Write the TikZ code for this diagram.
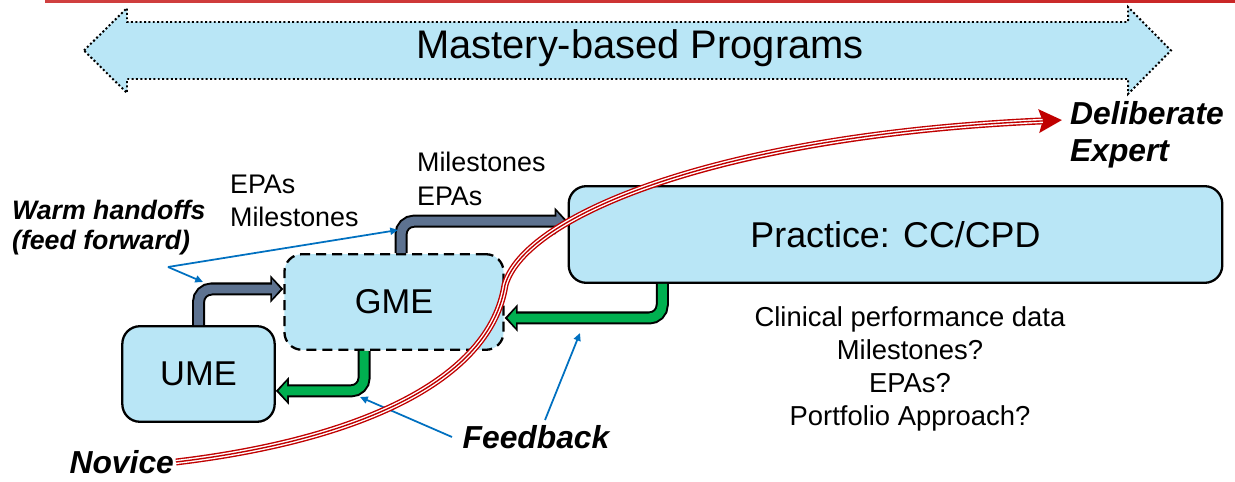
\documentclass[tikz,border=0pt]{standalone}
\usepackage{fontspec}
\setmainfont{Liberation Sans}
\usetikzlibrary{arrows.meta,positioning,calc}

\definecolor{boxblue}{HTML}{B9E6F6}
\definecolor{slate}{HTML}{5D7290}
\definecolor{fbgreen}{HTML}{00B050}
\definecolor{ptrblue}{HTML}{0070C0}
\definecolor{pathred}{HTML}{C00000}

\tikzset{
  stagebox/.style={draw=black, line width=1.3pt, fill=boxblue, rounded corners=10pt},
  flowout/.style={black, line width=7.4pt, rounded corners=7.4pt, -{Triangle[length=7.4pt,width=15.3pt]}},
  flowin/.style={line width=5.1pt, rounded corners=7.4pt, shorten >=1.6pt, -{Triangle[length=4.8pt,width=10.6pt]}},
  pointer/.style={ptrblue, line width=1pt, -{Triangle[length=4.4pt,width=4pt]}},
  tag/.style={font=\fontsize{15.3}{19}\selectfont, align=left, inner sep=1pt},
  callout/.style={font=\fontsize{18.1}{21}\selectfont\bfseries\itshape, inner sep=1pt},
}

\begin{document}
\begin{tikzpicture}[x=0.02cm, y=-0.02cm]
    \useasboundingbox (0,0) rectangle (1235,482);

    % Header rule
    \shade[left color=pathred!75, middle color=pathred!35, right color=pathred!85] (45,1) rectangle (1235,3);

    % Mastery-based band
    \filldraw[fill=boxblue, draw=black, line width=1.13pt, dash pattern=on 1.13pt off 1.35pt]
        (84,50.5) -- (127,8) -- (127,22) -- (1128,22) -- (1128,7) -- (1171,50.5)
        -- (1128,94) -- (1128,79) -- (127,79) -- (127,93) -- cycle;
    \node (mastery) at (640,48) {\fontsize{22.7}{27}\selectfont Mastery-based Programs};

    % Stages
    \node[stagebox, minimum width=372pt, minimum height=55pt, font=\fontsize{20.4}{24}\selectfont]
        (practice) at (895.5,234.5) {Practice: CC/CPD};
    \node[stagebox, dash pattern=on 5.7pt off 3.4pt, minimum width=124.7pt, minimum height=54.4pt,
        font=\fontsize{19.6}{23}\selectfont] (gme) at (394,302) {GME};
    \node[stagebox, minimum width=86.7pt, minimum height=54.4pt, font=\fontsize{19.6}{23}\selectfont]
        (ume) at (198.5,374) {UME};

    % Feed forward
    \draw[flowout] (ume.north) |- ([yshift=7.4pt]gme.west);
    \draw[flowin, slate] (ume.north) |- ([yshift=7.4pt]gme.west);
    \draw[flowout] ([xshift=4pt]gme.north) |- ([yshift=7.6pt]practice.west);
    \draw[flowin, slate] ([xshift=4pt]gme.north) |- ([yshift=7.6pt]practice.west);

    % Feedback
    \draw[flowout] ([xshift=53.9pt]practice.south west) |- ([yshift=-9.1pt]gme.east);
    \draw[flowin, fbgreen] ([xshift=53.9pt]practice.south west) |- ([yshift=-9.1pt]gme.east);
    \draw[flowout] ([xshift=-17pt]gme.south) |- ([yshift=-9.6pt]ume.east);
    \draw[flowin, fbgreen] ([xshift=-17pt]gme.south) |- ([yshift=-9.6pt]ume.east);

    % Labels
    \node[tag, anchor=west] (fwdA) at (228,201) {EPAs\\Milestones};
    \node[tag, anchor=west] (fwdB) at (415,179) {Milestones\\EPAs};
    \node[callout, anchor=west, align=left, font=\fontsize{15.2}{17}\selectfont\bfseries\itshape]
        (warm) at (10,228) {Warm handoffs\\(feed forward)};
    \node[callout] (feedback) at (536,437) {Feedback};
    \node[tag, align=center, font=\fontsize{15.6}{18.7}\selectfont] (data) at (910,369)
        {Clinical performance data\\Milestones?\\EPAs?\\Portfolio Approach?};
    \node[callout, anchor=east] (novice) at (176,462) {Novice};
    \node[callout, anchor=west, align=left] (expert) at (1068,135) {Deliberate\\Expert};

    % Pointers
    \coordinate (hand) at (168,267);
    \coordinate (fbA) at (452,437);
    \coordinate (fbB) at (545,420);
    \draw[pointer] (hand) -- (203,282);
    \draw[pointer] (hand) -- (398,230);
    \draw[pointer] (fbA) -- (360,397);
    \draw[pointer] (fbB) -- (580,333);

    % Novice to expert
    \draw[pathred, line width=3.97pt, -{Stealth[length=13pt,width=13pt,inset=2pt]}]
        (novice.east) .. controls (360,440) and (490,380) .. (505,285)
        .. controls (525,215) and (720,135) .. ([xshift=-3.4pt,yshift=8.5pt]expert.west);
    \draw[white, line width=2.38pt, shorten >=11pt]
        (novice.east) .. controls (360,440) and (490,380) .. (505,285)
        .. controls (525,215) and (720,135) .. ([xshift=-3.4pt,yshift=8.5pt]expert.west);
    \draw[pathred, line width=0.79pt, shorten >=11pt]
        (novice.east) .. controls (360,440) and (490,380) .. (505,285)
        .. controls (525,215) and (720,135) .. ([xshift=-3.4pt,yshift=8.5pt]expert.west);
\end{tikzpicture}
\end{document}
